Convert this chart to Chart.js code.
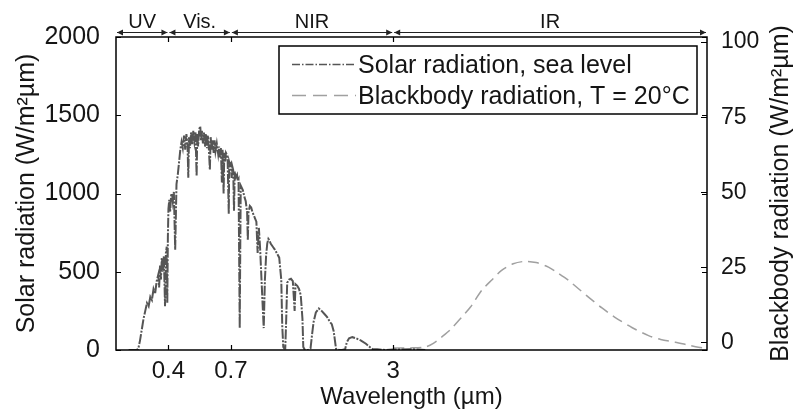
<!DOCTYPE html>
<html>
<head>
<meta charset="utf-8">
<script src="https://cdn.jsdelivr.net/npm/chart.js@4"></script>
<style>
  html, body { margin: 0; padding: 0; background: #fff; }
  #chart { display: block; }
</style>
</head>
<body>
<canvas id="chart" width="797" height="412"></canvas>
<script>
// wavelength (um) and solar irradiance at sea level (W/m2/um)
const solarWavelength = [
  0.28, 0.29, 0.30, 0.305, 0.31, 0.315, 0.32, 0.325, 0.33, 0.335, 0.34, 0.345, 0.35, 0.355, 0.36, 0.365,
  0.368, 0.371, 0.374, 0.377, 0.38, 0.384, 0.388, 0.391, 0.394, 0.396, 0.398, 0.40, 0.403, 0.406, 0.41,
  0.413, 0.416, 0.42, 0.425, 0.43, 0.435, 0.44, 0.445, 0.45, 0.455, 0.46, 0.465, 0.47, 0.475, 0.478,
  0.481, 0.485, 0.49, 0.495, 0.50, 0.505, 0.51, 0.515, 0.518, 0.522, 0.527, 0.532, 0.536, 0.54, 0.545,
  0.55, 0.555, 0.56, 0.565, 0.57, 0.575, 0.58, 0.584, 0.59, 0.595, 0.60, 0.605, 0.61, 0.617, 0.625,
  0.63, 0.635, 0.64, 0.646, 0.65, 0.656, 0.66, 0.665, 0.67, 0.675, 0.68, 0.687, 0.69, 0.695, 0.70,
  0.705, 0.71, 0.715, 0.72, 0.725, 0.73, 0.74, 0.745, 0.75, 0.758, 0.762, 0.765, 0.77, 0.78, 0.785,
  0.79, 0.80, 0.81, 0.815, 0.82, 0.83, 0.84, 0.85, 0.86, 0.87, 0.88, 0.89, 0.90, 0.91, 0.93, 0.94,
  0.95, 0.96, 0.97, 0.98, 0.99, 1.0, 1.02, 1.04, 1.06, 1.08, 1.1, 1.11, 1.12, 1.13, 1.14, 1.15, 1.16,
  1.18, 1.2, 1.22, 1.24, 1.25, 1.27, 1.29, 1.31, 1.33, 1.34, 1.36, 1.40, 1.43, 1.45, 1.47, 1.5, 1.54,
  1.58, 1.62, 1.66, 1.7, 1.73, 1.76, 1.79, 1.8, 1.85, 1.9, 1.95, 1.98, 2.02, 2.08, 2.15, 2.25, 2.35,
  2.45, 2.5, 2.6, 2.8, 3.0, 3.5, 4.0
];
const solarIrradiance = [
  0, 0, 0, 5, 60, 130, 200, 250, 300, 280, 340, 320, 390, 360, 440, 480,
  400, 540, 450, 590, 500, 600, 280, 620, 660, 300, 720, 900, 960, 880, 990,
  1000, 950, 1010, 640, 1060, 1120, 1200, 1280, 1330, 1290, 1370, 1280, 1380, 1300, 1100,
  1360, 1290, 1390, 1310, 1400, 1330, 1390, 1110, 1380, 1300, 1410, 1430, 1340, 1400, 1320,
  1390, 1300, 1380, 1290, 1370, 1280, 1150, 1360, 1280, 1340, 1260, 1340, 1270, 1320, 1250,
  1300, 1230, 1290, 1070, 1280, 1000, 1260, 1200, 1260, 1250, 1220, 870, 1200, 1180, 1190,
  1100, 1170, 1150, 890, 1140, 1100, 1120, 1080, 1090, 140, 700, 1050, 1040, 1020, 1000,
  980, 950, 880, 700, 880, 920, 910, 880, 860, 840, 820, 620, 780, 650, 300, 140,
  450, 600, 680, 710, 700, 680, 660, 640, 615, 590, 450, 150, 20, 10, 10, 200, 430,
  450, 455, 440, 250, 420, 410, 390, 350, 200, 20, 0, 0, 10, 100, 180, 240, 265,
  250, 230, 210, 180, 165, 120, 30, 5, 0, 0, 5, 50, 75, 82, 75, 60, 40,
  15, 5, 5, 0, 3, 5, 0
];

// blackbody radiation, T = 20 C (right axis, W/m2/um)
const bbWavelength = [3.0, 3.5, 4.0, 4.3, 4.63, 5.0, 5.54, 6.0, 6.63, 7.3, 7.93, 8.8, 9.76, 10.8, 12.07,
  13.2, 14.43, 15.8, 17.27, 19.5, 21.9, 25.5, 29.6, 33, 37.6, 42, 46.3, 50];
const bbRadiation = [-1.8, -1.8, -1.5, -0.3, 1.8, 4.2, 8.4, 11.8, 17.3, 21.0, 24.0, 26.2, 27.0, 26.6, 25.1,
  23.0, 20.7, 17.9, 15.1, 11.5, 8.4, 5.0, 2.3, 1.0, 0.1, -0.8, -1.6, -1.9];

const xTicks = [0.4, 0.7, 3];
const yTicks = [0, 500, 1000, 1500, 2000];
const y2Ticks = [0, 25, 50, 75, 100];

// spectral bands along the top
const bandEdges = [0.25, 0.4, 0.7, 3, 50];
const bandLabels = ['UV', 'Vis.', 'NIR', 'IR'];

const legendLabels = ['Solar radiation, sea level', 'Blackbody radiation, T = 20°C'];

const FONT = '"Liberation Sans", Arial, Helvetica, sans-serif';
const INK = '#151515';
const SOLAR_COLOR = '#555555';
const BB_COLOR = '#a0a0a0';

function pairs(xs, ys) {
  return xs.map((x, i) => ({ x, y: ys[i] }));
}

function setTicks(values) {
  return scale => { scale.ticks = values.map(v => ({ value: v })); };
}

function arrowHead(ctx, x, y, dir) {
  ctx.beginPath();
  ctx.moveTo(x, y);
  ctx.lineTo(x - dir * 6, y - 3);
  ctx.lineTo(x - dir * 6, y + 3);
  ctx.closePath();
  ctx.fill();
}

const decor = {
  id: 'decor',
  afterDraw(chart) {
    const { ctx, chartArea: a, scales } = chart;
    const { x, y, y2 } = scales;
    ctx.save();

    // axes box
    ctx.strokeStyle = '#000';
    ctx.lineWidth = 1.5;
    ctx.strokeRect(a.left, a.top, a.right - a.left, a.bottom - a.top);

    // inward tick marks
    ctx.lineWidth = 1.2;
    ctx.beginPath();
    xTicks.forEach(v => {
      const px = Math.round(x.getPixelForValue(v)) + 0.5;
      ctx.moveTo(px, a.bottom); ctx.lineTo(px, a.bottom - 5);
      ctx.moveTo(px, a.top); ctx.lineTo(px, a.top + 5);
    });
    yTicks.forEach(v => {
      const py = Math.round(y.getPixelForValue(v)) + 0.5;
      ctx.moveTo(a.left, py); ctx.lineTo(a.left + 5, py);
      ctx.moveTo(a.right, py); ctx.lineTo(a.right - 5, py);
    });
    y2Ticks.forEach(v => {
      const py = Math.round(y2.getPixelForValue(v)) + 0.5;
      ctx.moveTo(a.right, py); ctx.lineTo(a.right - 6, py);
    });
    ctx.stroke();

    // band arrows along the top
    const ay = a.top - 5;
    ctx.fillStyle = '#222';
    ctx.strokeStyle = '#222';
    ctx.lineWidth = 1;
    ctx.font = '20px ' + FONT;
    ctx.textAlign = 'center';
    ctx.textBaseline = 'alphabetic';
    bandLabels.forEach((label, i) => {
      const x0 = x.getPixelForValue(bandEdges[i]) + 1;
      const x1 = x.getPixelForValue(bandEdges[i + 1]) - 1;
      ctx.beginPath();
      ctx.moveTo(x0, ay + 0.5); ctx.lineTo(x1, ay + 0.5);
      ctx.stroke();
      arrowHead(ctx, x0, ay + 0.5, -1);
      arrowHead(ctx, x1, ay + 0.5, 1);
      ctx.fillStyle = INK;
      ctx.fillText(label, (x0 + x1) / 2, ay - 4);
      ctx.fillStyle = '#222';
    });

    // legend
    const lx = 279, ly = 46, lw = 418, lh = 68;
    ctx.fillStyle = '#fff';
    ctx.fillRect(lx, ly, lw, lh);
    ctx.strokeStyle = '#000';
    ctx.lineWidth = 1.5;
    ctx.strokeRect(lx, ly, lw, lh);
    const rows = [
      { y: 64.5, color: SOLAR_COLOR, dash: [8, 2, 1.5, 2] },
      { y: 95.5, color: BB_COLOR, dash: [14, 7] }
    ];
    ctx.font = '25px ' + FONT;
    ctx.textAlign = 'left';
    ctx.textBaseline = 'middle';
    rows.forEach((row, i) => {
      ctx.strokeStyle = row.color;
      ctx.lineWidth = 1.5;
      ctx.setLineDash(row.dash);
      ctx.beginPath();
      ctx.moveTo(292, row.y); ctx.lineTo(356, row.y);
      ctx.stroke();
      ctx.setLineDash([]);
      ctx.fillStyle = INK;
      ctx.fillText(legendLabels[i], 358, row.y + 2);
    });

    // right axis title, reading bottom to top
    ctx.translate(781, (a.top + a.bottom) / 2);
    ctx.rotate(-Math.PI / 2);
    ctx.textAlign = 'center';
    ctx.textBaseline = 'middle';
    ctx.fillText('Blackbody radiation (W/m²µm)', 0, 0);
    ctx.restore();
  }
};

function renderChart() {
  const ctx = document.getElementById('chart');
  new Chart(ctx, {
    type: 'line',
    data: {
      datasets: [{
        label: legendLabels[0],
        data: pairs(solarWavelength, solarIrradiance),
        yAxisID: 'y',
        borderColor: SOLAR_COLOR,
        borderWidth: 2,
        borderDash: [10, 1.5, 2, 1.5],
        pointRadius: 0,
        tension: 0,
        fill: false
      }, {
        label: legendLabels[1],
        data: pairs(bbWavelength, bbRadiation),
        yAxisID: 'y2',
        borderColor: BB_COLOR,
        borderWidth: 1.5,
        borderDash: [11, 6],
        pointRadius: 0,
        tension: 0.3,
        fill: false
      }]
    },
    options: {
      responsive: false,
      animation: false,
      devicePixelRatio: 1,
      layout: { padding: { top: 37, left: 0, right: 0, bottom: 0 } },
      plugins: { legend: { display: false }, tooltip: { enabled: false } },
      scales: {
        x: {
          type: 'logarithmic',
          min: 0.25,
          max: 50,
          afterBuildTicks: setTicks(xTicks),
          afterFit: s => { s.height = 62; },
          grid: { display: false },
          border: { display: false },
          ticks: { color: INK, font: { family: FONT, size: 24 }, padding: -1, maxRotation: 0, callback: v => String(v) },
          title: { display: true, text: 'Wavelength (µm)', color: INK, font: { family: FONT, size: 24 }, padding: { top: 0, bottom: 0 } }
        },
        y: {
          position: 'left',
          min: 0,
          max: 2000,
          afterBuildTicks: setTicks(yTicks),
          afterFit: s => { s.width = 116; },
          grid: { display: false },
          border: { display: false },
          ticks: { color: INK, font: { family: FONT, size: 25 }, padding: 8, callback: v => String(v) },
          title: { display: true, text: 'Solar radiation (W/m²µm)', color: INK, font: { family: FONT, size: 25 }, padding: { top: 12, bottom: 0 } }
        },
        y2: {
          position: 'right',
          min: -2.5,
          max: 101.7,
          afterBuildTicks: setTicks(y2Ticks),
          afterFit: s => { s.width = 90; },
          grid: { display: false },
          border: { display: false },
          ticks: { color: INK, font: { family: FONT, size: 23 }, padding: 6, callback: v => String(v) }
        }
      }
    },
    plugins: [decor]
  });
}

window.addEventListener('DOMContentLoaded', renderChart);
</script>
</body>
</html>
